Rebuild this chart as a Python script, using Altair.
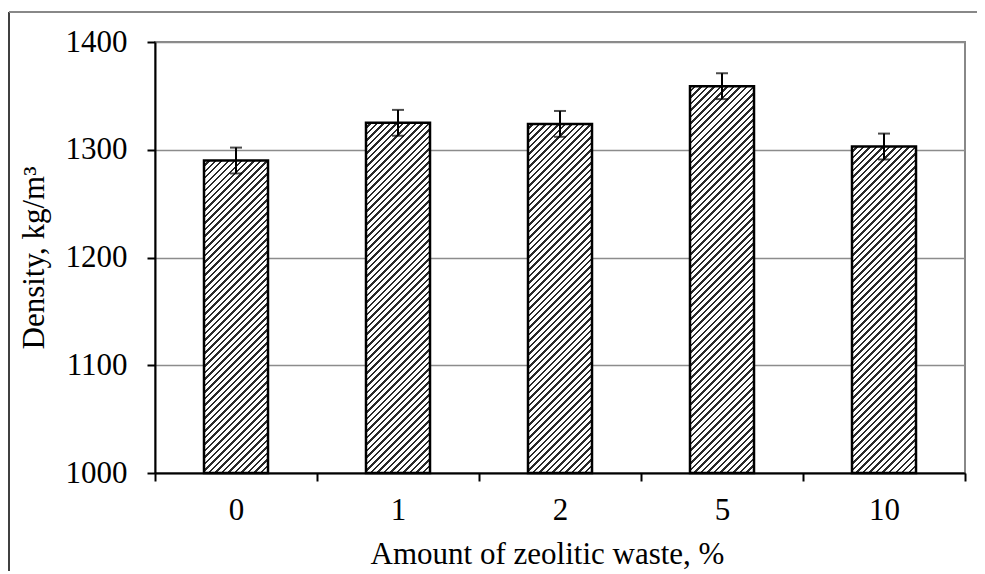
import altair as alt
import pandas as pd

# ---- data ----
categories = ["0", "1", "2", "5", "10"]
density = [1290, 1325, 1324, 1359, 1303]
error = [12, 12, 12, 12, 12]
y_ticks = [1000, 1100, 1200, 1300, 1400]

df = pd.DataFrame({"cat": categories, "val": density, "err": error})
df["lo"] = df["val"] - df["err"]
df["hi"] = df["val"] + df["err"]

W, H = 810, 431
YMIN, YMAX = 1000, 1400
BAR_W = 64
FONT = "Liberation Serif"
FS = 31


def hatch(value):
    """Diagonal '/' hatch built as a hard-stop linear gradient for one bar."""
    h = (value - YMIN) * H / (YMAX - YMIN)
    w = BAR_W
    k = (w + h) / (w * w + h * h)
    n = max(1, round((w + h) / 2 ** 0.5 / 4.6))
    stops = []
    for i in range(n):
        a = i / n
        b = (i + 0.62) / n
        c = (i + 1) / n
        stops += [
            alt.GradientStop(offset=a, color="#ffffff"),
            alt.GradientStop(offset=b, color="#ffffff"),
            alt.GradientStop(offset=b, color="#2a2a2a"),
            alt.GradientStop(offset=c, color="#2a2a2a"),
        ]
    return alt.LinearGradient(gradient="linear", x1=0, y1=0, x2=k * w, y2=k * h, stops=stops)


x_enc = alt.X(
    "cat:N",
    scale=alt.Scale(domain=categories, paddingInner=0, paddingOuter=0),
    axis=alt.Axis(
        title="Amount of zeolitic waste, %",
        tickBand="extent",
        labelAngle=0,
        labelPadding=14,
        grid=False,
        titleX=392,
        titleY=90,
        titleAlign="center",
        titleBaseline="alphabetic",
    ),
)
y_scale = alt.Scale(domain=[YMIN, YMAX], nice=False, zero=False)
y_enc = alt.Y(
    "val:Q",
    scale=y_scale,
    axis=alt.Axis(
        values=y_ticks,
        format="d",
        title="Density, kg/m³",
        labelPadding=20,
        grid=True,
        titleX=-112,
        titleY=H / 2,
        titleAlign="center",
        titleBaseline="alphabetic",
        titleAngle=270,
    ),
)

base = alt.Chart(df)

bar_layers = []
for c, v in zip(categories, density):
    bar_layers.append(
        base.transform_filter(alt.datum.cat == c)
        .mark_bar(fill=hatch(v), stroke="black", strokeWidth=2.5, width=BAR_W)
        .encode(x=x_enc, y=y_enc, y2=alt.datum(YMIN))
    )

err_rule = base.mark_rule(color="black", strokeWidth=2).encode(
    x=alt.X("cat:N", scale=alt.Scale(domain=categories)),
    y=alt.Y("lo:Q", scale=y_scale),
    y2="hi:Q",
)
cap_hi = base.mark_tick(color="black", size=12, thickness=2, orient="horizontal").encode(
    x=alt.X("cat:N", scale=alt.Scale(domain=categories)),
    y=alt.Y("hi:Q", scale=y_scale),
)
cap_lo = base.mark_tick(color="black", size=12, thickness=2, orient="horizontal").encode(
    x=alt.X("cat:N", scale=alt.Scale(domain=categories)),
    y=alt.Y("lo:Q", scale=y_scale),
)

frame_df = pd.DataFrame({"k": [0]})
frame_left = alt.Chart(frame_df).mark_rule(color="black", strokeWidth=1.5).encode(
    x=alt.value(-146), y=alt.value(-30), y2=alt.value(560)
)
frame_top = alt.Chart(frame_df).mark_rule(color="#888888", strokeWidth=2).encode(
    x=alt.value(-146), x2=alt.value(840), y=alt.value(-30)
)

chart = (
    alt.layer(*bar_layers, err_rule, cap_hi, cap_lo, frame_left, frame_top)
    .properties(
        width=W,
        height=H,
        autosize="none",
        padding={"left": 147, "top": 34, "right": 12, "bottom": 98},
        background="white",
    )
    .configure_view(stroke="#888888", strokeWidth=2)
    .configure_axis(
        domainColor="black",
        domainWidth=2,
        tickColor="black",
        tickWidth=2,
        tickSize=8,
        gridColor="#8c8c8c",
        gridWidth=1.5,
        labelFont=FONT,
        labelFontSize=FS,
        labelColor="black",
        titleFont=FONT,
        titleFontSize=FS,
        titleFontWeight="normal",
        titleColor="black",
    )
)

chart.save("out.html", embed_options={"renderer": "svg", "actions": False})
